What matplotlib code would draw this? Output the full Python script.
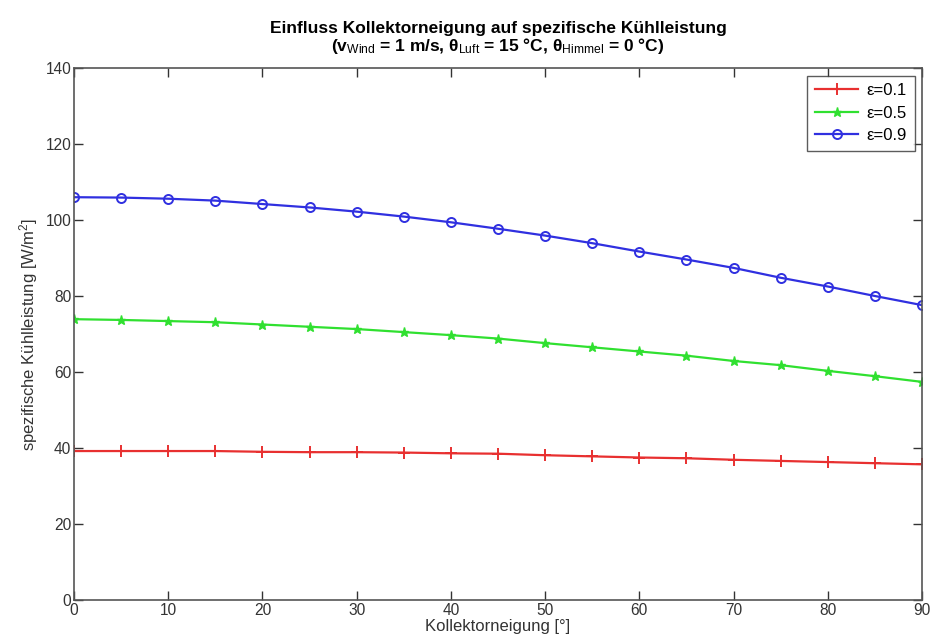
import matplotlib
matplotlib.use("Agg")
import matplotlib.pyplot as plt

plt.rcParams['font.family'] = ['Liberation Sans', 'DejaVu Sans']
plt.rcParams['mathtext.fontset'] = 'custom'
plt.rcParams['mathtext.rm'] = 'Liberation Sans'
plt.rcParams['mathtext.it'] = 'Liberation Sans:italic'
plt.rcParams['mathtext.bf'] = 'Liberation Sans:bold'
plt.rcParams['mathtext.default'] = 'regular'

neigung = [0, 5, 10, 15, 20, 25, 30, 35, 40, 45, 50, 55, 60, 65, 70, 75, 80, 85, 90]
eps01 = [39.2, 39.2, 39.2, 39.2, 39.0, 38.9, 38.9, 38.8, 38.6, 38.5, 38.1, 37.8, 37.5, 37.3, 36.9, 36.6, 36.3, 36.0, 35.7]
eps05 = [73.9, 73.7, 73.4, 73.1, 72.5, 71.9, 71.3, 70.5, 69.7, 68.8, 67.6, 66.5, 65.4, 64.3, 62.9, 61.8, 60.3, 58.9, 57.4]
eps09 = [106.0, 105.9, 105.6, 105.1, 104.2, 103.3, 102.2, 100.9, 99.4, 97.7, 95.9, 93.9, 91.7, 89.6, 87.4, 84.8, 82.5, 80.0, 77.6]
labels = ['ε=0.1', 'ε=0.5', 'ε=0.9']
xticks = [0, 10, 20, 30, 40, 50, 60, 70, 80, 90]
yticks = [0, 20, 40, 60, 80, 100, 120, 140]

fig = plt.figure(figsize=(9.3, 6.44), dpi=100)
ax = fig.add_axes([74/930, 44/644, 848/930, 532/644])

ax.plot(neigung, eps01, color='#e83030', lw=1.6, marker='+', ms=8, mew=1.4, label=labels[0])
ax.plot(neigung, eps05, color='#30e030', lw=1.6, marker='*', ms=6.5, mew=1.0, label=labels[1])
ax.plot(neigung, eps09, color='#3030e0', lw=1.6, marker='o', ms=6.5, mfc='none', mew=1.4, label=labels[2])

ax.set_xlim(0, 90)
ax.set_ylim(0, 140)
ax.set_xticks(xticks)
ax.set_yticks(yticks)
ax.tick_params(direction='in', length=6.5, width=1, top=True, right=True,
               labelsize=11.2, labelcolor='#333333', color='#333333', pad=2)
for s in ax.spines.values():
    s.set_color('#555555')
    s.set_linewidth(1.2)

ax.set_xlabel('Kollektorneigung [°]', fontsize=12, color='#333333', labelpad=1)
ax.set_ylabel('spezifische Kühlleistung [W/m$^2$]', fontsize=12, color='#333333', labelpad=4)
ax.set_title('Einfluss Kollektorneigung auf spezifische Kühlleistung\n'
             r'(v$_{\mathrm{Wind}}$ = 1 m/s, θ$_{\mathrm{Luft}}$ = 15 °C, θ$_{\mathrm{Himmel}}$ = 0 °C)',
             fontsize=12.5, fontweight='bold', pad=12, linespacing=1.0)

leg = ax.legend(loc='upper right', fontsize=12, frameon=True, fancybox=False,
                edgecolor='#333333', borderaxespad=0.45, handlelength=2.6,
                labelspacing=0.45, borderpad=0.45, handletextpad=0.5)
leg.get_frame().set_linewidth(1.0)

fig.savefig('out.png', dpi=100)
